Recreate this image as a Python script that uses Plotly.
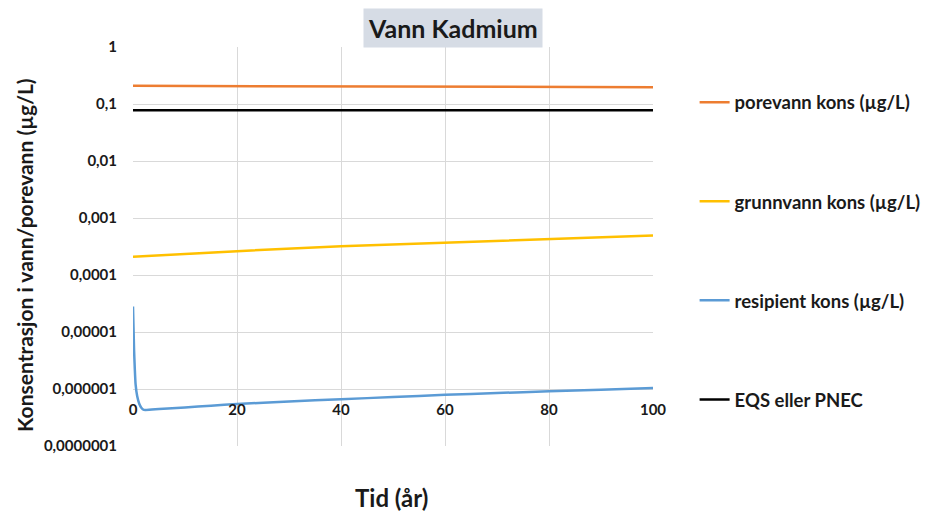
import plotly.graph_objects as go

# ---- data ----
x_years = [0, 20, 40, 60, 80, 100]
porevann = [0.208, 0.205, 0.203, 0.200, 0.198, 0.197]
grunnvann = [2.08e-4, 2.62e-4, 3.2e-4, 3.72e-4, 4.32e-4, 4.94e-4]
eqs_x = [0, 100]
eqs = [0.078, 0.078]
resip_x = [0, 0.1, 0.2, 0.35, 0.5, 0.8, 1.2, 1.6, 2.1, 5, 10, 15, 20, 30, 40, 50, 60, 70, 80, 90, 100]
resip = [2.8e-5, 1.2e-5, 5e-6, 2.2e-6, 1.2e-6, 7.5e-7, 5.5e-7, 4.7e-7, 4.3e-7, 4.45e-7,
         4.75e-7, 5.1e-7, 5.45e-7, 6.05e-7, 6.6e-7, 7.25e-7, 7.9e-7, 8.5e-7, 9.1e-7, 9.75e-7, 1.04e-6]

y_tickvals = [1e-7, 1e-6, 1e-5, 1e-4, 1e-3, 1e-2, 1e-1, 1]
y_ticktext = ["0,0000001", "0,000001", "0,00001", "0,0001", "0,001", "0,01", "0,1", "1"]
x_tickvals = [0, 20, 40, 60, 80, 100]

FONT = "Lato"
TXT = "#1a1a1a"

fig = go.Figure()
fig.add_trace(go.Scatter(x=x_years, y=porevann, mode="lines", name="porevann kons (µg/L)",
                         line=dict(color="#ED7D31", width=2.5), legendgroup="a"))
fig.add_trace(go.Scatter(x=x_years, y=grunnvann, mode="lines", name="grunnvann kons (µg/L)",
                         line=dict(color="#FFC000", width=2.5), legendgroup="b"))
fig.add_trace(go.Scatter(x=resip_x, y=resip, mode="lines", name="resipient kons (µg/L)",
                         line=dict(color="#5B9BD5", width=2.5, shape="spline", smoothing=0.5),
                         legendgroup="c"))
fig.add_trace(go.Scatter(x=eqs_x, y=eqs, mode="lines", name="EQS eller PNEC",
                         line=dict(color="#000000", width=2.5), legendgroup="d"))

W, H = 928, 504   # page body adds an 8px offset
L, T, PW, PH = 125, 39, 520, 399

fig.update_layout(
    width=W, height=H,
    margin=dict(l=L, r=W - L - PW, t=T, b=H - T - PH, autoexpand=False),
    paper_bgcolor="white", plot_bgcolor="white",
    font=dict(family=FONT, color=TXT),
    showlegend=True,
    legend=dict(x=1.08, xanchor="left", y=0.908, yanchor="top",
                font=dict(family=FONT, size=18.5, color=TXT, weight="bold"),
                tracegroupgap=72, bgcolor="rgba(0,0,0,0)"),
    xaxis=dict(range=[0, 100], tickvals=x_tickvals, showgrid=True, gridcolor="#d9d9d9",
               gridwidth=1, zeroline=False, showline=False, automargin=False,
               anchor="free", position=1/7,
               ticks="outside", ticklen=7, tickcolor="rgba(0,0,0,0)",
               tickfont=dict(family=FONT, size=15, color=TXT, weight="bold")),
    yaxis=dict(type="log", range=[-7, 0], tickvals=y_tickvals, ticktext=y_ticktext,
               showgrid=True, gridcolor="#d9d9d9", gridwidth=1, zeroline=False, showline=False,
               automargin=False,
               ticks="outside", ticklen=12, tickcolor="rgba(0,0,0,0)",
               tickfont=dict(family=FONT, size=15, color=TXT, weight="bold")),
    annotations=[
        dict(text="Vann Kadmium", xref="paper", yref="paper",
             x=(453 - 133) / PW, y=1 + (47 - 28) / PH, xanchor="center", yanchor="middle",
             showarrow=False, bgcolor="#D6DCE5", borderpad=4,
             font=dict(family=FONT, size=25, color=TXT, weight="bold")),
        dict(text="Tid (år)", xref="paper", yref="paper",
             x=(391 - 133) / PW, y=-(497 - 446) / PH, xanchor="center", yanchor="middle",
             showarrow=False,
             font=dict(family=FONT, size=24, color=TXT, weight="bold")),
        dict(text="Konsentrasjon i vann/porevann (µg/L)", xref="paper", yref="paper",
             x=-(133 - 24) / PW, y=(446 - 255) / PH, xanchor="center", yanchor="middle",
             textangle=-90, showarrow=False,
             font=dict(family=FONT, size=21, color=TXT, weight="bold")),
    ],
)

fig.write_html("out.html")
